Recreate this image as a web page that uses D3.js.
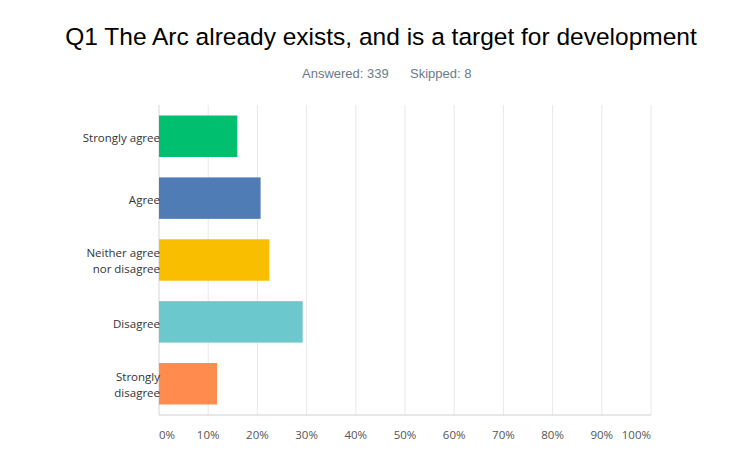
<!DOCTYPE html>
<html>
<head>
<meta charset="utf-8">
<script src="https://cdn.jsdelivr.net/npm/d3@7"></script>
<style>
body { margin: 0; background: #fff; }
</style>
</head>
<body>
<script>
var categories = [['Strongly agree'], ['Agree'], ['Neither agree', 'nor disagree'], ['Disagree'], ['Strongly', 'disagree']]
var values = [0.1593, 0.2065, 0.2242, 0.2920, 0.1180]
var colors = ['#00bf6f', '#507cb6', '#f9be00', '#6bc8cd', '#ff8b4f']
var ticks = [0, 0.1, 0.2, 0.3, 0.4, 0.5, 0.6, 0.7, 0.8, 0.9, 1]
var title = 'Q1 The Arc already exists, and is a target for development'
var answered = 'Answered: 339'
var skipped = 'Skipped: 8'

var width = 731, height = 466
var plotLeft = 159, plotRight = 651, plotTop = 105, plotBottom = 415

var svg = d3.select('body').append('svg')
	.attr('width', width)
	.attr('height', height)

svg.append('text')
	.attr('x', 381)
	.attr('y', 45)
	.attr('text-anchor', 'middle')
	.style('font-family', '"Liberation Sans", Arial, sans-serif')
	.style('font-size', '24.5px')
	.style('fill', '#000')
	.text(title)

var sub = svg.append('g')
	.style('font-family', '"Liberation Sans", Arial, sans-serif')
	.style('font-size', '13px')
	.style('fill', '#6b7a87')
sub.append('text').attr('x', 302).attr('y', 78).text(answered)
sub.append('text').attr('x', 410).attr('y', 78).text(skipped)

var x = d3.scaleLinear().domain([0, 1]).range([plotLeft, plotRight])
var y = d3.scaleBand().domain(d3.range(categories.length)).range([plotTop, plotBottom]).paddingInner(0.33).paddingOuter(0.17)

// grid
svg.selectAll('.grid').data(ticks.slice(1)).enter().append('line')
	.attr('class', 'grid')
	.attr('x1', function(d){ return x(d) })
	.attr('x2', function(d){ return x(d) })
	.attr('y1', plotTop)
	.attr('y2', plotBottom)
	.style('stroke', '#e8e8e8')
	.style('stroke-width', 1)

svg.append('line')
	.attr('x1', plotLeft).attr('x2', plotLeft)
	.attr('y1', plotTop).attr('y2', plotBottom)
	.style('stroke', '#d6d6d6')

svg.selectAll('.bar').data(values).enter().append('rect')
	.attr('class', 'bar')
	.attr('x', plotLeft)
	.attr('y', function(d, i){ return y(i) })
	.attr('width', function(d){ return x(d) - plotLeft })
	.attr('height', y.bandwidth())
	.style('fill', function(d, i){ return colors[i] })

svg.append('line')
	.attr('x1', plotLeft).attr('x2', plotRight)
	.attr('y1', plotBottom).attr('y2', plotBottom)
	.style('stroke', '#cfcfcf')

svg.selectAll('.tick').data(ticks).enter().append('text')
	.attr('class', 'tick')
	.attr('x', function(d){ return x(d) })
	.attr('y', 439)
	.attr('text-anchor', function(d, i){ return i == 0 ? 'start' : (i == ticks.length - 1 ? 'end' : 'middle') })
	.style('font-family', '"Open Sans", sans-serif')
	.style('font-size', '11.5px')
	.style('fill', '#555')
	.text(function(d){ return Math.round(d * 100) + '%' })

var labels = svg.selectAll('.cat').data(categories).enter().append('text')
	.attr('class', 'cat')
	.attr('text-anchor', 'end')
	.attr('transform', function(d, i){
		var cy = y(i) + y.bandwidth() / 2
		return 'translate(' + 160 + ',' + (cy + 6 - (d.length - 1) * 9) + ')'
	})
	.style('font-family', '"Open Sans", sans-serif')
	.style('font-size', '11.5px')
	.style('fill', '#333')
labels.selectAll('tspan').data(function(d){ return d }).enter().append('tspan')
	.attr('x', 0)
	.attr('dy', function(d, i){ return i == 0 ? 0 : 16 })
	.text(function(d){ return d })
</script>
</body>
</html>
